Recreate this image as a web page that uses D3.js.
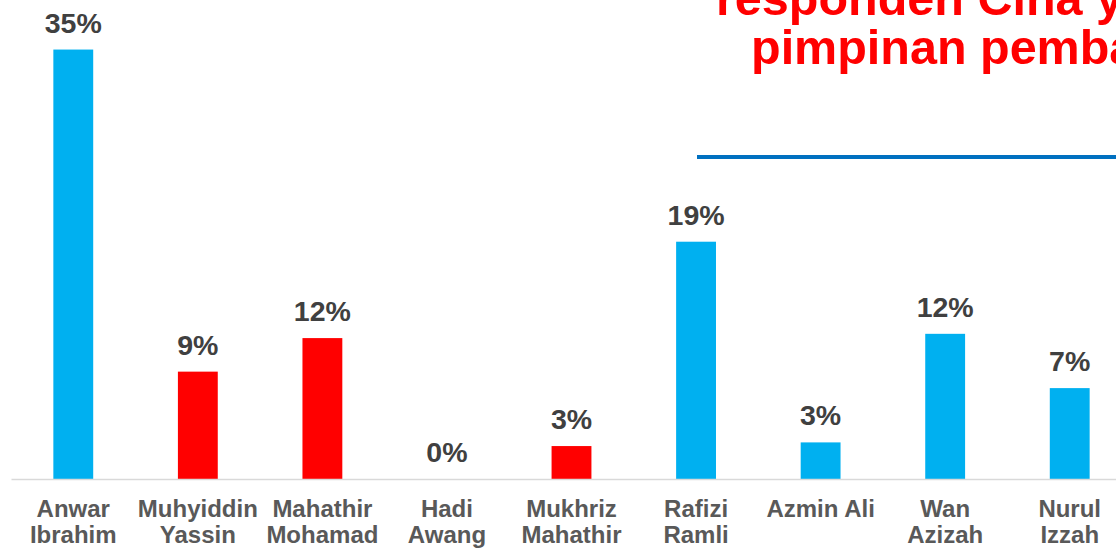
<!DOCTYPE html>
<html>
<head>
<meta charset="utf-8">
<script src="https://cdn.jsdelivr.net/npm/d3@7"></script>
<style>
  html, body { margin: 0; padding: 0; background: #fff; overflow: hidden; }
  svg { display: block; font-family: "Liberation Sans", Arial, sans-serif; }
</style>
</head>
<body>
<svg id="chart" width="1116" height="548"></svg>
<script>
const categories = [
  ["Anwar", "Ibrahim"],
  ["Muhyiddin", "Yassin"],
  ["Mahathir", "Mohamad"],
  ["Hadi", "Awang"],
  ["Mukhriz", "Mahathir"],
  ["Rafizi", "Ramli"],
  ["Azmin Ali"],
  ["Wan", "Azizah"],
  ["Nurul", "Izzah"]
];
const values = [35.2, 8.8, 11.55, 0, 2.7, 19.45, 3.0, 11.9, 7.45];
const valueLabels = ["35%", "9%", "12%", "0%", "3%", "19%", "3%", "12%", "7%"];
const group = ["A", "B", "B", "B", "B", "A", "A", "A", "A"];
const titleLines = ["responden Cina yang", "pimpinan pembangkang"];

const svg = d3.select("#chart");
const keys = categories.map(c => c.join(" "));

const x = d3.scaleBand()
  .domain(keys)
  .range([11, 1132])
  .paddingInner(0.68)
  .paddingOuter(0.34);

const y = d3.scaleLinear()
  .domain([0, 35])
  .range([479, 479 - 35 * 12.2]);

const color = d3.scaleOrdinal().domain(["A", "B"]).range(["#00b0f0", "#ff0000"]);

// title (clipped at the top/right like the reference)
const title = svg.append("text")
  .attr("fill", "#ff0000")
  .attr("font-weight", "bold")
  .attr("font-size", 48.5);
title.append("tspan").attr("x", 716).attr("y", 15).text(titleLines[0]);
title.append("tspan").attr("x", 751).attr("y", 64).text(titleLines[1]);

svg.append("line")
  .attr("x1", 697).attr("x2", 1116)
  .attr("y1", 157).attr("y2", 157)
  .attr("stroke", "#0070c0")
  .attr("stroke-width", 4);

// bars
svg.selectAll("rect.bar")
  .data(values)
  .join("rect")
  .attr("class", "bar")
  .attr("x", (d, i) => x(keys[i]))
  .attr("width", x.bandwidth())
  .attr("y", d => y(d))
  .attr("height", d => y(0) - y(d))
  .attr("fill", (d, i) => color(group[i]));

// axis baseline
const xAxis = d3.axisBottom(x).tickSize(0).tickFormat("");
const ax = svg.append("g").attr("transform", `translate(0,${y(0)})`).call(xAxis);
ax.select(".domain").attr("stroke", "#d9d9d9").attr("stroke-width", 1.5);

// value labels
svg.selectAll("text.val")
  .data(values)
  .join("text")
  .attr("class", "val")
  .attr("x", (d, i) => x(keys[i]) + x.bandwidth() / 2)
  .attr("y", d => y(d) - 17)
  .attr("text-anchor", "middle")
  .attr("font-weight", "bold")
  .attr("font-size", 28.5)
  .attr("fill", "#404040")
  .text((d, i) => valueLabels[i]);

// category labels
const cat = svg.selectAll("text.cat")
  .data(categories)
  .join("text")
  .attr("class", "cat")
  .attr("text-anchor", "middle")
  .attr("font-weight", "bold")
  .attr("font-size", 24)
  .attr("fill", "#595959");
cat.each(function(lines, i) {
  const cx = x(keys[i]) + x.bandwidth() / 2;
  d3.select(this).selectAll("tspan")
    .data(lines)
    .join("tspan")
    .attr("x", cx)
    .attr("y", (l, j) => 517 + j * 26)
    .text(l => l);
});
</script>
</body>
</html>
